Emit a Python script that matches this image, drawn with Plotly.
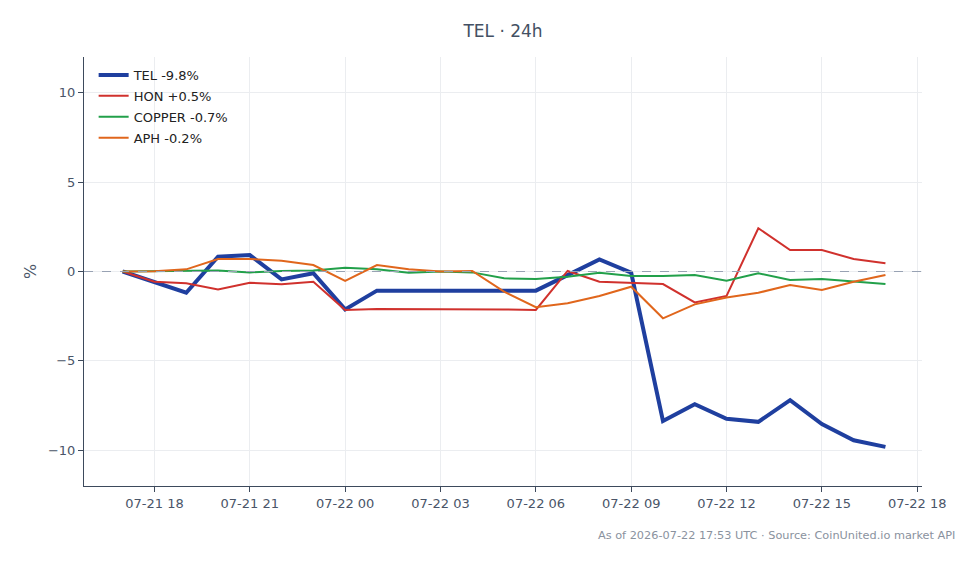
import plotly.graph_objects as go
import pandas as pd

times = pd.date_range("2026-07-21 17:00", "2026-07-22 17:00", freq="h")

tel = [0, -0.6, -1.19, 0.83, 0.92, -0.44, -0.1, -2.12, -1.07, -1.07, -1.07, -1.07, -1.07, -1.07,
       -0.2, 0.68, -0.07, -8.36, -7.42, -8.24, -8.41, -7.2, -8.54, -9.44, -9.81]
hon = [0, -0.57, -0.66, -1.0, -0.63, -0.72, -0.57, -2.16, -2.1, -2.1, -2.12, -2.12, -2.12, -2.15,
       0.03, -0.57, -0.63, -0.7, -1.73, -1.37, 2.42, 1.2, 1.2, 0.7, 0.46]
copper = [0, 0.02, 0.03, 0.05, -0.05, 0.03, 0.05, 0.21, 0.12, -0.07, 0.0, -0.05, -0.38, -0.42,
          -0.3, -0.07, -0.25, -0.25, -0.2, -0.51, -0.1, -0.47, -0.42, -0.57, -0.7]
aph = [0, 0.02, 0.12, 0.7, 0.7, 0.6, 0.36, -0.53, 0.36, 0.12, 0.0, 0.03, -1.13, -2.0,
       -1.78, -1.37, -0.85, -2.62, -1.84, -1.45, -1.19, -0.76, -1.04, -0.57, -0.2]

series = [
    ("TEL -9.8%", tel, "#1f3f9f", 4),
    ("HON +0.5%", hon, "#d0312d", 2),
    ("COPPER -0.7%", copper, "#22a04a", 2),
    ("APH -0.2%", aph, "#e0661c", 2),
]

fig = go.Figure()
for i, (name, vals, color, w) in enumerate(series):
    fig.add_trace(go.Scatter(x=times, y=vals, mode="lines", name=name, legendgroup=f"g{i}",
                             line=dict(color=color, width=w)))

fig.add_hline(y=0, line=dict(color="#98a2b3", width=1, dash="dash"))

axis_color = "#3d4a5c"
fig.update_layout(
    width=979, height=564,
    margin=dict(l=84, r=57, t=57, b=78, autoexpand=False),
    paper_bgcolor="white", plot_bgcolor="white",
    font=dict(family="DejaVu Sans", size=13, color="#4a5568"),
    title=dict(text="TEL · 24h", x=0.5, xref="paper", xanchor="center",
               y=1 - 31 / 564, yref="container", yanchor="middle",
               font=dict(size=17, color="#435063")),
    legend=dict(x=0.0115, y=0.993, xanchor="left", yanchor="top", tracegroupgap=1,
                bgcolor="rgba(255,255,255,0)", font=dict(size=13, color="#222222")),
    showlegend=True,
)
fig.update_xaxes(
    range=["2026-07-21 15:47", "2026-07-22 18:09"],
    tick0="2026-07-21 00:00", dtick=3 * 3600 * 1000, tickformat="%m-%d %H",
    showgrid=True, gridcolor="#ebedf0", gridwidth=1,
    showline=True, linecolor=axis_color, linewidth=1,
    ticks="outside", ticklen=5, tickcolor=axis_color, zeroline=False,
    automargin=False,
)
fig.update_yaxes(
    range=[-12, 12], tickvals=[-10, -5, 0, 5, 10],
    showgrid=True, gridcolor="#ebedf0", gridwidth=1,
    showline=True, linecolor=axis_color, linewidth=1,
    ticks="outside", ticklen=5, tickcolor=axis_color, zeroline=False,
    title=dict(text="%", standoff=7), automargin=False,
)
fig.add_annotation(
    text="As of 2026-07-22 17:53 UTC · Source: CoinUnited.io market API",
    xref="paper", yref="paper", x=1.042, y=-0.115, xanchor="right", yanchor="middle",
    showarrow=False, font=dict(size=11.3, color="#8a929e"),
)

fig.write_html("out.html")
